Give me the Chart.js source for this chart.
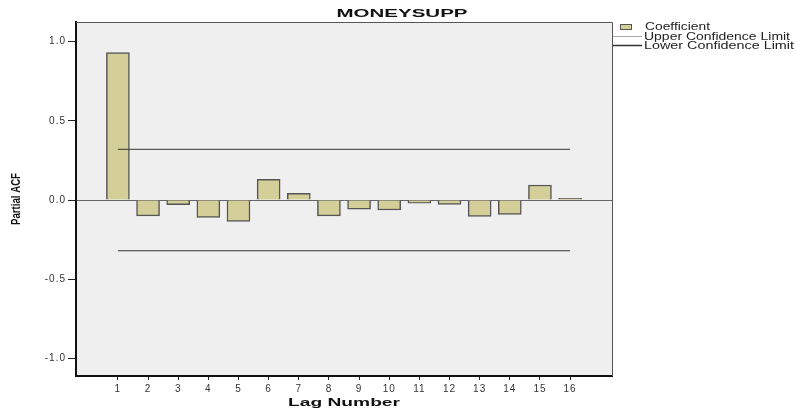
<!DOCTYPE html>
<html>
<head>
<meta charset="utf-8">
<script src="https://cdn.jsdelivr.net/npm/chart.js@4/dist/chart.umd.min.js"></script>
<style>
  html, body { margin: 0; padding: 0; background: #fff; }
  #wrap { width: 796px; height: 413px; }
</style>
</head>
<body>
<div id="wrap"><canvas id="pacf" width="796" height="413"></canvas></div>
<script>
// data
const lags = [1, 2, 3, 4, 5, 6, 7, 8, 9, 10, 11, 12, 13, 14, 15, 16];
const coefficient = [0.93, -0.10, -0.03, -0.11, -0.135, 0.13, 0.042, -0.10, -0.057, -0.063, -0.02, -0.027, -0.103, -0.09, 0.095, 0.01];
const upperLimit = [0.32, 0.32];
const lowerLimit = [-0.32, -0.32];
const yTicks = [-1.0, -0.5, 0.0, 0.5, 1.0];

const limitX = [lags[0], lags[lags.length - 1]];
const FONT = '"Liberation Sans", Arial, sans-serif';

// the source picture is stretched sideways, so text is drawn squeezed to a width
function wideText(ctx, text, x, y, font, width, align, rotate) {
  ctx.save();
  ctx.letterSpacing = '0px';
  ctx.font = font;
  const w = ctx.measureText(text).width;
  ctx.translate(x, y);
  if (rotate) ctx.rotate(-Math.PI / 2);
  ctx.scale(width / w, 1);
  ctx.textAlign = align;
  ctx.textBaseline = 'middle';
  ctx.fillText(text, 0, 0);
  ctx.restore();
}

// background, frame, titles and legend
const decor = {
  id: 'decor',
  beforeDraw(chart) {
    const { ctx, chartArea: a } = chart;
    ctx.save();
    ctx.fillStyle = '#efefef';
    ctx.fillRect(a.left, a.top, a.right - a.left, a.bottom - a.top);
    ctx.restore();
    ctx.letterSpacing = '1px';
  },
  afterDraw(chart) {
    const { ctx, chartArea: a } = chart;
    ctx.save();
    // top + right frame
    ctx.strokeStyle = '#555';
    ctx.lineWidth = 1;
    ctx.beginPath();
    ctx.moveTo(a.left, a.top + 0.5);
    ctx.lineTo(a.right + 0.5, a.top + 0.5);
    ctx.lineTo(a.right + 0.5, a.bottom);
    ctx.stroke();

    ctx.fillStyle = '#111';
    wideText(ctx, 'MONEYSUPP', 402, 14, 'bold 10px ' + FONT, 131, 'center');
    wideText(ctx, 'Lag Number', (a.left + a.right) / 2, 403, 'bold 10px ' + FONT, 112, 'center');
    wideText(ctx, 'Partial ACF', 16, (a.top + a.bottom) / 2, 'bold 13px ' + FONT, 52, 'center', true);

    // legend
    ctx.fillStyle = '#d4cf98';
    ctx.strokeStyle = '#555';
    ctx.fillRect(620.5, 24.5, 11, 5);
    ctx.strokeRect(620.5, 24.5, 11, 5);

    ctx.strokeStyle = '#aaa';
    ctx.lineWidth = 1;
    ctx.beginPath();
    ctx.moveTo(a.right + 1, 36.5);
    ctx.lineTo(642, 36.5);
    ctx.stroke();

    ctx.strokeStyle = '#333';
    ctx.lineWidth = 1.5;
    ctx.beginPath();
    ctx.moveTo(a.right + 1, 45.5);
    ctx.lineTo(642, 45.5);
    ctx.stroke();

    ctx.fillStyle = '#222';
    wideText(ctx, 'Coefficient', 645, 27, '10px ' + FONT, 65, 'left');
    wideText(ctx, 'Upper Confidence Limit', 644, 37.5, '10px ' + FONT, 146, 'left');
    wideText(ctx, 'Lower Confidence Limit', 644, 46.5, '10px ' + FONT, 150, 'left');
    ctx.restore();
  }
};

new Chart(document.getElementById('pacf'), {
  type: 'bar',
  data: {
    datasets: [
      {
        label: 'Coefficient',
        data: lags.map((l, i) => ({ x: l, y: coefficient[i] })),
        backgroundColor: '#d4cf98',
        borderColor: '#555',
        borderWidth: 1.5,
        barThickness: 23,
        order: 2
      },
      {
        type: 'line',
        label: 'Upper Confidence Limit',
        data: limitX.map((x, i) => ({ x: x, y: upperLimit[i] })),
        borderColor: '#333',
        borderWidth: 1,
        pointRadius: 0,
        fill: false,
        order: 1
      },
      {
        type: 'line',
        label: 'Lower Confidence Limit',
        data: limitX.map((x, i) => ({ x: x, y: lowerLimit[i] })),
        borderColor: '#333',
        borderWidth: 1,
        pointRadius: 0,
        fill: false,
        order: 1
      }
    ]
  },
  options: {
    responsive: false,
    animation: false,
    layout: { padding: { top: 22, right: 184, left: 0, bottom: 0 } },
    plugins: {
      legend: { display: false },
      title: { display: false },
      tooltip: { enabled: false }
    },
    scales: {
      x: {
        type: 'linear',
        offset: false,
        min: -0.39,
        max: 17.39,
        afterBuildTicks: s => { s.ticks = lags.map(v => ({ value: v })); },
        afterFit: s => { s.height = 37; },
        grid: { display: true, offset: false, drawOnChartArea: false, drawTicks: true, tickLength: 4, tickColor: '#222' },
        border: { display: true, color: '#111', width: 2 },
        ticks: {
          color: '#333',
          font: { family: FONT, size: 10 },
          padding: 3,
          maxRotation: 0,
          autoSkip: false
        }
      },
      y: {
        min: -1.11,
        max: 1.123,
        afterBuildTicks: s => { s.ticks = yTicks.map(v => ({ value: v })); },
        afterFit: s => { s.width = 76; },
        grid: {
          drawTicks: true,
          tickLength: 8,
          tickColor: '#222',
          color: c => (c.tick && c.tick.value === 0 ? '#666' : 'rgba(0,0,0,0)'),
          lineWidth: 1
        },
        border: { display: true, color: '#111', width: 2 },
        ticks: {
          color: '#333',
          font: { family: FONT, size: 10 },
          padding: 2,
          callback: v => v.toFixed(1)
        }
      }
    }
  },
  plugins: [decor]
});
</script>
</body>
</html>
